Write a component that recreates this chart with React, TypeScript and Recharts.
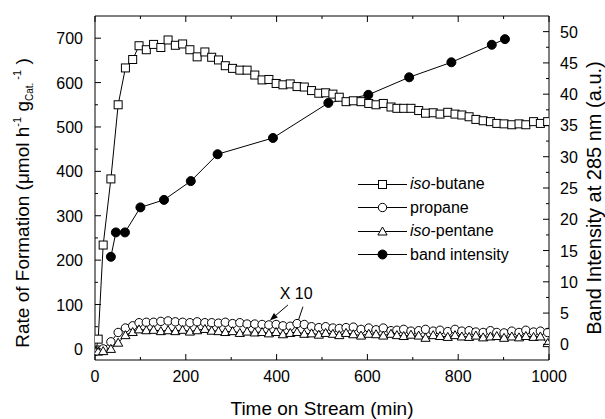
import React from "react";
import {
  Legend,
  Line,
  LineChart,
  ReferenceDot,
  ReferenceLine,
  XAxis,
  YAxis,
} from "recharts";

const FONT = "Arial, 'Liberation Sans', Helvetica, sans-serif";

// time on stream (min) shared by the three product series
const timeMin = [
  2, 7, 18, 35, 51, 67, 83, 97, 113, 129, 145, 161, 177, 193, 209, 225, 242,
  257, 272, 287, 303, 319, 335, 352, 368, 383, 399, 414, 430, 445, 461, 477,
  493, 508, 524, 538, 553, 569, 586, 603, 619, 635, 652, 665, 680, 696, 713,
  728, 745, 760, 777, 793, 808, 824, 839, 855, 871, 885, 901, 918, 934, 949,
  966, 981, 997,
];

const isoButane = [
  -3, 22, 234, 383, 550, 633, 652, 683, 674, 686, 679, 696, 684, 687, 674, 658,
  669, 657, 651, 638, 632, 628, 628, 617, 606, 607, 598, 595, 597, 591, 590,
  582, 576, 577, 574, 567, 557, 559, 557, 553, 550, 553, 545, 542, 542, 542,
  537, 531, 532, 529, 533, 529, 527, 523, 517, 514, 512, 508, 507, 505, 507,
  505, 512, 508, 512,
];

// propane and iso-pentane are plotted x10
const propane = [
  -5, -3, 0, 16, 37, 47, 52, 59, 60, 60, 62, 63, 61, 60, 59, 61, 59, 59, 58, 60,
  57, 59, 56, 56, 55, 54, 55, 52, 51, 57, 55, 50, 48, 50, 47, 46, 48, 49, 44,
  47, 43, 47, 41, 42, 44, 40, 41, 44, 40, 42, 39, 44, 40, 41, 38, 37, 41, 37,
  36, 40, 37, 42, 38, 40, 37,
];

const isoPentane = [
  -5, -6, -5, 0, 14, 31, 38, 44, 42, 43, 40, 42, 40, 43, 39, 42, 45, 41, 40, 38,
  40, 36, 39, 37, 38, 35, 38, 33, 36, 38, 34, 35, 32, 36, 34, 31, 36, 33, 30,
  34, 33, 30, 34, 31, 29, 32, 30, 25, 31, 29, 27, 31, 28, 27, 30, 26, 28, 29,
  25, 28, 26, 29, 27, 28, 13,
];

// band intensity at 285 nm (right axis)
const bandTime = [35, 46, 66, 100, 152, 211, 270, 392, 514, 602, 692, 785, 874, 903];
const bandIntensity = [
  14.0, 17.9, 17.9, 21.9, 23.1, 26.1, 30.4, 33.0, 38.6, 39.9, 42.7, 45.1, 47.9,
  48.8,
];

const xTicks = [0, 100, 200, 300, 400, 500, 600, 700, 800, 900, 1000];
const leftTicks = [0, 50, 100, 150, 200, 250, 300, 350, 400, 450, 500, 550, 600, 650, 700];
const rightTicks = [
  0, 2.5, 5, 7.5, 10, 12.5, 15, 17.5, 20, 22.5, 25, 27.5, 30, 32.5, 35, 37.5,
  40, 42.5, 45, 47.5, 50,
];

const rows = timeMin.map((t, i) => ({
  t,
  isoButane: isoButane[i],
  propane: propane[i],
  isoPentane: isoPentane[i],
}));
const bandRows = bandTime.map((t, i) => ({ t, intensity: bandIntensity[i] }));

const tickText = { fontSize: 16, fontFamily: FONT, fill: "#000" };

function BottomTick(props: any) {
  const { x, y, payload } = props;
  const major = payload.value % 200 === 0;
  return (
    <g>
      <line x1={x} y1={y} x2={x} y2={y - (major ? 6 : 3)} stroke="#000" />
      {major && (
        <text x={x} y={y + 22} textAnchor="middle" {...tickText}>
          {payload.value}
        </text>
      )}
    </g>
  );
}

function TopTick(props: any) {
  const { x, y, payload } = props;
  const major = payload.value % 200 === 0;
  return <line x1={x} y1={y} x2={x} y2={y + (major ? 6 : 3)} stroke="#000" />;
}

function LeftTick(props: any) {
  const { x, y, payload } = props;
  const major = payload.value % 100 === 0;
  return (
    <g>
      <line x1={x} y1={y} x2={x + (major ? 6 : 3)} y2={y} stroke="#000" />
      {major && (
        <text x={x - 12} y={y + 6} textAnchor="end" {...tickText}>
          {payload.value}
        </text>
      )}
    </g>
  );
}

function RightTick(props: any) {
  const { x, y, payload } = props;
  const major = payload.value % 5 === 0;
  return (
    <g>
      <line x1={x} y1={y} x2={x - (major ? 6 : 3)} y2={y} stroke="#000" />
      {major && (
        <text x={x + 11} y={y + 6} textAnchor="start" {...tickText}>
          {payload.value}
        </text>
      )}
    </g>
  );
}

const squareDot = (p: any) => (
  <rect key={`s${p.index}`} x={p.cx - 4} y={p.cy - 4} width={8} height={8} fill="#fff" stroke="#000" />
);
const circleDot = (p: any) => (
  <circle key={`c${p.index}`} cx={p.cx} cy={p.cy} r={4.2} fill="#fff" stroke="#000" />
);
const triangleDot = (p: any) => (
  <path
    key={`t${p.index}`}
    d={`M${p.cx},${p.cy - 4.5}L${p.cx + 4.6},${p.cy + 3.5}L${p.cx - 4.6},${p.cy + 3.5}Z`}
    fill="#fff"
    stroke="#000"
  />
);
const filledDot = (p: any) => (
  <circle key={`b${p.index}`} cx={p.cx} cy={p.cy} r={4.5} fill="#000" stroke="#000" />
);

const LeftTitle = () => (
  <text
    x={29}
    y={203}
    transform="rotate(-90, 29, 203)"
    textAnchor="middle"
    fontSize={19}
    fontFamily={FONT}
    fill="#000"
  >
    Rate of Formation (μmol h
    <tspan fontSize={11} dy={-8}>-1</tspan>
    <tspan dy={8}> g</tspan>
    <tspan fontSize={10} dy={4}>Cat.</tspan>
    <tspan fontSize={11} dy={-12}> -1</tspan>
    <tspan dy={8}> )</tspan>
  </text>
);

const RightTitle = () => (
  <text
    x={601}
    y={198}
    transform="rotate(-90, 601, 198)"
    textAnchor="middle"
    fontSize={20}
    fontFamily={FONT}
    fill="#000"
  >
    Band Intensity at 285 nm (a.u.)
  </text>
);

const BottomTitle = () => (
  <text x={322} y={415} textAnchor="middle" fontSize={19} fontFamily={FONT} fill="#000">
    Time on Stream (min)
  </text>
);

function Arrow(props: any) {
  const { x1, y1, x2, y2 } = props;
  const ang = Math.atan2(y2 - y1, x2 - x1);
  const l = 8;
  const w = 3;
  const bx = x2 - l * Math.cos(ang);
  const by = y2 - l * Math.sin(ang);
  const px = -Math.sin(ang) * w;
  const py = Math.cos(ang) * w;
  return (
    <g>
      <line x1={x1} y1={y1} x2={bx} y2={by} stroke="#000" strokeWidth={1} />
      <path d={`M${x2},${y2}L${bx + px},${by + py}L${bx - px},${by - py}Z`} fill="#000" />
    </g>
  );
}

const legendItems = [
  { name: <><i>iso</i>-butane</>, dot: "square" },
  { name: <>propane</>, dot: "circle" },
  { name: <><i>iso</i>-pentane</>, dot: "triangle" },
  { name: <>band intensity</>, dot: "filled" },
];

function LegendIcon({ kind }: { kind: string }) {
  const cx = 24.5;
  const cy = 11.5;
  return (
    <svg width={50} height={23} style={{ display: "block" }}>
      <line x1={0} y1={cy} x2={49} y2={cy} stroke="#000" />
      {kind === "square" && squareDot({ cx, cy, index: 0 })}
      {kind === "circle" && circleDot({ cx, cy, index: 0 })}
      {kind === "triangle" && triangleDot({ cx, cy, index: 0 })}
      {kind === "filled" && filledDot({ cx, cy, index: 0 })}
    </svg>
  );
}

const renderLegend = () => (
  <div style={{ fontFamily: FONT, fontSize: 16, color: "#000" }}>
    {legendItems.map((it, i) => (
      <div key={i} style={{ display: "flex", alignItems: "center", height: 23.5 }}>
        <LegendIcon kind={it.dot} />
        <span style={{ marginLeft: 2, whiteSpace: "nowrap" }}>{it.name}</span>
      </div>
    ))}
  </div>
);

export default function App() {
  return (
    <div style={{ position: "absolute", left: 0, top: 0, background: "#fff" }}>
      <LineChart width={605} height={419} data={rows} margin={{ top: 0, right: 0, bottom: 0, left: 0 }}>
        <XAxis
          xAxisId="bottom"
          dataKey="t"
          type="number"
          domain={[0, 1000]}
          allowDataOverflow
          ticks={xTicks}
          interval={0}
          height={59}
          tickSize={0}
          tickMargin={0}
          tick={BottomTick}
          axisLine={{ stroke: "#000" }}
          label={{ content: BottomTitle }}
        />
        <XAxis
          xAxisId="top"
          orientation="top"
          dataKey="t"
          type="number"
          domain={[0, 1000]}
          allowDataOverflow
          ticks={xTicks}
          interval={0}
          height={16}
          tickSize={0}
          tickMargin={0}
          tick={TopTick}
          axisLine={{ stroke: "#000" }}
        />
        <YAxis
          yAxisId="left"
          type="number"
          domain={[-25, 750]}
          allowDataOverflow
          ticks={leftTicks}
          interval={0}
          width={95}
          tickSize={0}
          tickMargin={0}
          tick={LeftTick}
          axisLine={{ stroke: "#000" }}
          label={{ content: LeftTitle }}
        />
        <YAxis
          yAxisId="right"
          orientation="right"
          type="number"
          domain={[-2.5, 52.5]}
          allowDataOverflow
          ticks={rightTicks}
          interval={0}
          width={56}
          tickSize={0}
          tickMargin={0}
          tick={RightTick}
          axisLine={{ stroke: "#000" }}
          label={{ content: RightTitle }}
        />
        <Line
          xAxisId="bottom"
          yAxisId="left"
          dataKey="isoButane"
          stroke="#000"
          strokeWidth={1}
          dot={squareDot}
          isAnimationActive={false}
        />
        <Line
          xAxisId="bottom"
          yAxisId="left"
          dataKey="propane"
          stroke="#000"
          strokeWidth={1}
          dot={circleDot}
          isAnimationActive={false}
        />
        <Line
          xAxisId="bottom"
          yAxisId="left"
          dataKey="isoPentane"
          stroke="#000"
          strokeWidth={1}
          dot={triangleDot}
          isAnimationActive={false}
        />
        <Line
          xAxisId="bottom"
          yAxisId="right"
          data={bandRows}
          dataKey="intensity"
          stroke="#000"
          strokeWidth={1}
          dot={filledDot}
          isAnimationActive={false}
        />
        <ReferenceLine
          xAxisId="bottom"
          yAxisId="left"
          segment={[{ x: 425, y: 99 }, { x: 385, y: 64 }]}
          shape={Arrow}
        />
        <ReferenceLine
          xAxisId="bottom"
          yAxisId="left"
          segment={[{ x: 458, y: 95 }, { x: 442, y: 46 }]}
          shape={Arrow}
        />
        <ReferenceDot
          xAxisId="bottom"
          yAxisId="left"
          x={443}
          y={126}
          r={0}
          fill="none"
          stroke="none"
          label={{ value: "X 10", position: "center", fill: "#000", fontSize: 16, fontFamily: FONT }}
        />
        <Legend
          layout="vertical"
          align="center"
          verticalAlign="middle"
          content={renderLegend}
          wrapperStyle={{ left: 358, top: 172.5, width: 200 }}
        />
      </LineChart>
    </div>
  );
}
